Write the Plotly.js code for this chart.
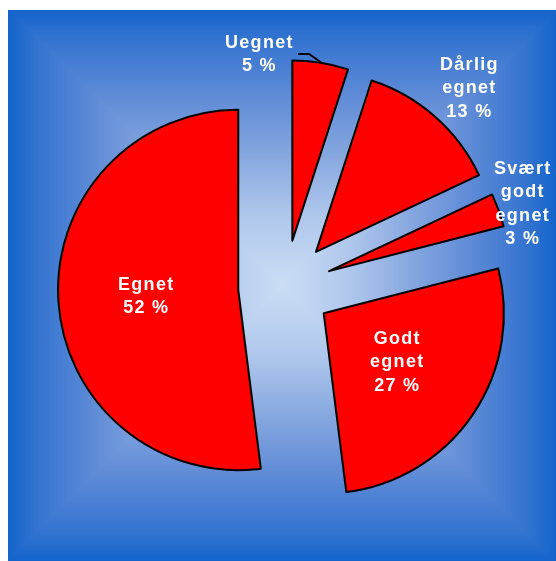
<!DOCTYPE html>
<html>
<head>
<meta charset="utf-8">
<script src="https://cdn.plot.ly/plotly-3.0.1.min.js"></script>
<style>
  html, body { margin: 0; padding: 0; background: #ffffff; }
  #wrap { position: relative; width: 556px; height: 561px; overflow: hidden; }
  #bg { position: absolute; left: 8px; top: 10px; width: 548px; height: 551px; }
  #chart { position: absolute; left: 0; top: 0; width: 556px; height: 561px; }
  .annotation-text { letter-spacing: 1.3px; }
</style>
</head>
<body>
<div id="wrap">
  <canvas id="bg" width="548" height="551"></canvas>
  <div id="chart"></div>
</div>
<script>
// ---- data ----
var categories = ['Uegnet', 'Dårlig egnet', 'Svært godt egnet', 'Godt egnet', 'Egnet'];
var labelLines = ['Uegnet', 'Dårlig<br>egnet', 'Svært<br>godt<br>egnet', 'Godt<br>egnet', 'Egnet'];
var values = [5, 13, 3, 27, 52];
var percentLabels = ['5 %', '13 %', '3 %', '27 %', '52 %'];

// ---- background: rectangular (box) gradient, dark edges to light centre ----
(function () {
  var cv = document.getElementById('bg');
  var ctx = cv.getContext('2d');
  var w = cv.width, h = cv.height;
  var img = ctx.createImageData(w, h);
  var st = [[0, [0x13, 0x64, 0xCB]], [0.10, [0x32, 0x73, 0xD0]], [0.30, [0x5C, 0x89, 0xD6]],
            [0.55, [0x8A, 0xAA, 0xE0]], [0.75, [0xAF, 0xC7, 0xEC]], [1, [0xCA, 0xDD, 0xF4]]];
  function col(t) {
    for (var k = 1; k < st.length; k++) {
      if (t <= st[k][0]) {
        var a = st[k - 1], b = st[k], f = (t - a[0]) / (b[0] - a[0]);
        return [a[1][0] + (b[1][0] - a[1][0]) * f, a[1][1] + (b[1][1] - a[1][1]) * f, a[1][2] + (b[1][2] - a[1][2]) * f];
      }
    }
    return st[st.length - 1][1];
  }
  var hw = w / 2, hh = h / 2;
  for (var y = 0; y < h; y++) {
    for (var x = 0; x < w; x++) {
      var d = Math.min(x + 0.5, w - x - 0.5, y + 0.5, h - y - 0.5);
      var t = Math.min(1, d / Math.min(hw, hh));
      var c = col(t), i = (y * w + x) * 4;
      img.data[i] = c[0]; img.data[i + 1] = c[1]; img.data[i + 2] = c[2]; img.data[i + 3] = 255;
    }
  }
  ctx.putImageData(img, 0, 0);
})();

// ---- layout geometry ----
var W = 556, H = 561;
var M = {l: 58, r: 44, t: 60, b: 47};
var PW = W - M.l - M.r, PH = H - M.t - M.b;
function px(x) { return (x - M.l) / PW; }
function py(y) { return 1 - (y - M.t) / PH; }

// label placement (pixel centres of each label block)
var labelPos = [[259, 53], [469, 87], [523, 203], [397, 361], [146, 295]];

var annotations = categories.map(function (c, i) {
  return {
    xref: 'paper', yref: 'paper',
    x: px(labelPos[i][0]), y: py(labelPos[i][1]),
    xanchor: 'center', yanchor: 'middle',
    showarrow: false,
    text: labelLines[i] + '<br>' + percentLabels[i],
    align: 'center',
    font: {family: 'Liberation Sans, Arial, sans-serif', size: 18, color: '#ffffff', weight: 'bold'}
  };
});

var leader = 'M ' + px(298) + ' ' + py(54) + ' L ' + px(309) + ' ' + py(54) + ' L ' + px(322) + ' ' + py(63);

var trace = {
  type: 'pie',
  labels: categories,
  values: values,
  sort: false,
  direction: 'clockwise',
  rotation: 0,
  pull: [0.26, 0.26, 0.26, 0.26, 0.26],
  marker: {colors: ['#FF0000', '#FF0000', '#FF0000', '#FF0000', '#FF0000'], line: {color: '#000000', width: 2}},
  textinfo: 'none',
  hoverinfo: 'none',
  showlegend: false
};

var layout = {
  width: W, height: H,
  margin: M,
  paper_bgcolor: 'rgba(0,0,0,0)',
  plot_bgcolor: 'rgba(0,0,0,0)',
  showlegend: false,
  annotations: annotations,
  shapes: [{type: 'path', xref: 'paper', yref: 'paper', path: leader, line: {color: '#000000', width: 2}}]
};

Plotly.newPlot('chart', [trace], layout, {displayModeBar: false, staticPlot: true});
</script>
</body>
</html>
